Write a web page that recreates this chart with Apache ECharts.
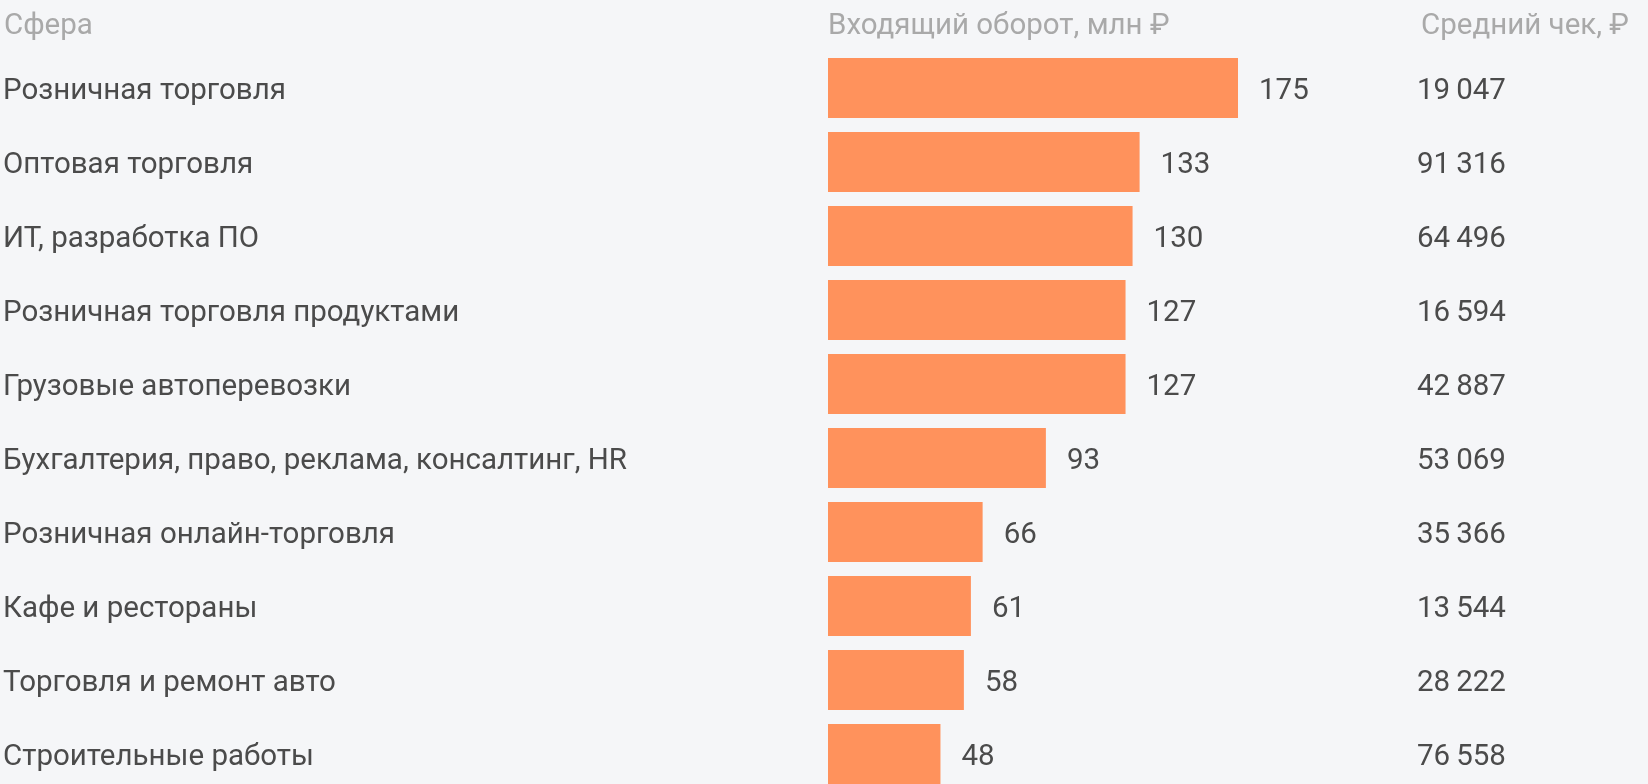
<!DOCTYPE html>
<html>
<head>
<meta charset="utf-8">
<script src="https://cdn.jsdelivr.net/npm/echarts@6/dist/echarts.min.js"></script>
<style>
html,body{margin:0;padding:0;background:#f5f6f8;}
#chart{width:1648px;height:784px;}
</style>
</head>
<body>
<div id="chart"></div>
<script>
const categories = [
  "Розничная торговля",
  "Оптовая торговля",
  "ИТ, разработка ПО",
  "Розничная торговля продуктами",
  "Грузовые автоперевозки",
  "Бухгалтерия, право, реклама, консалтинг, HR",
  "Розничная онлайн-торговля",
  "Кафе и рестораны",
  "Торговля и ремонт авто",
  "Строительные работы"
];
const turnover = [175, 133, 130, 127, 127, 93, 66, 61, 58, 48];
const avgCheck = [19047, 91316, 64496, 16594, 42887, 53069, 35366, 13544, 28222, 76558];
const headers = ["Сфера", "Входящий оборот, млн ₽", "Средний чек, ₽"];

function fmt(n){ return String(n).replace(/\B(?=(\d{3})+(?!\d))/g, "\u2009"); }

const FONT = "Roboto, 'Liberation Sans', sans-serif";
const FS = 29.5;
// small line box aligned to top: shifts the text centre slightly below the bar centre
const TXT = {fontFamily: FONT, fontSize: FS, color: '#4b4b4b', verticalAlign: 'top', lineHeight: 8};
const chart = echarts.init(document.getElementById('chart'));
chart.setOption({
  backgroundColor: '#f5f6f8',
  animation: false,
  title: [
    {text: headers[0], left: -1, top: 7, textStyle: {fontFamily: FONT, fontSize: FS, fontWeight: 'normal', color: '#a9a9a9'}},
    {text: headers[1], left: 823, top: 7, textStyle: {fontFamily: FONT, fontSize: FS, fontWeight: 'normal', color: '#a9a9a9'}},
    {text: headers[2], left: 1416, top: 7, textStyle: {fontFamily: FONT, fontSize: FS, fontWeight: 'normal', color: '#a9a9a9'}}
  ],
  grid: {left: 824, top: 88, width: 414, height: 666, containLabel: false},
  xAxis: {type: 'value', min: 0, max: 175, show: false},
  yAxis: [
    {
      type: 'category', data: categories, inverse: true, position: 'left', boundaryGap: false,
      axisLine: {show: false}, axisTick: {show: false}, splitLine: {show: false},
      axisLabel: Object.assign({align: 'left', margin: 825}, TXT)
    },
    {
      type: 'category', data: avgCheck.map(fmt), inverse: true, position: 'right', boundaryGap: false,
      axisLine: {show: false}, axisTick: {show: false}, splitLine: {show: false},
      axisLabel: Object.assign({align: 'left', margin: 179}, TXT)
    }
  ],
  series: [{
    type: 'bar',
    data: turnover,
    barWidth: 60,
    itemStyle: {color: '#ff925c'},
    label: Object.assign({show: true, position: 'right', distance: 21}, TXT)
  }]
});
</script>
</body>
</html>
